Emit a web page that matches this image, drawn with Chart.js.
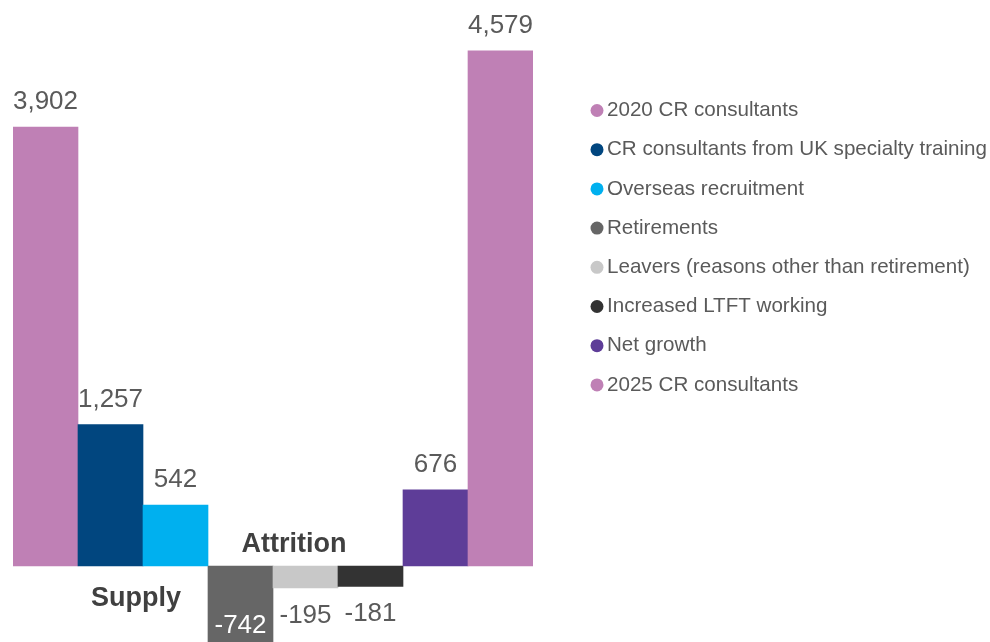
<!DOCTYPE html>
<html>
<head>
<meta charset="utf-8">
<script src="https://cdn.jsdelivr.net/npm/chart.js@4"></script>
<style>
  body { margin: 0; background: #fff; }
  #wrap { width: 990px; height: 642px; }
</style>
</head>
<body>
<div id="wrap"><canvas id="waterfallChart" width="990" height="642"></canvas></div>
<script>
// ------ data ------ //
var categories = [
	'2020 CR consultants',
	'CR consultants from UK specialty training',
	'Overseas recruitment',
	'Retirements',
	'Leavers (reasons other than retirement)',
	'Increased LTFT working',
	'Net growth',
	'2025 CR consultants'
]
var values = [3902, 1257, 542, -742, -195, -181, 676, 4579]
var colours = ['#BF80B5', '#01467F', '#00B0EF', '#666666', '#C8C8C8', '#333333', '#5E3D98', '#BF80B5']
var groupLabels = ['Supply', 'Attrition']

var fontFamily = '"Liberation Sans", Arial, sans-serif'
var textColour = '#5A5A5A'

// value labels above / below each bar
var valueLabels = {
	id: 'valueLabels',
	afterDatasetsDraw: function (chart) {
		var ctx = chart.ctx
		var meta = chart.getDatasetMeta(0)
		var bottom = chart.chartArea.bottom
		ctx.save()
		ctx.font = '26px ' + fontFamily
		ctx.textAlign = 'center'
		ctx.textBaseline = 'middle'
		meta.data.forEach(function (bar, i) {
			var v = values[i]
			var txt = v.toLocaleString('en-US')
			var y
			ctx.fillStyle = textColour
			if (v >= 0) {
				y = bar.y - 25
			} else {
				y = bar.y + 28
				if (y > bottom - 12) {
					// not enough room under the bar: put it inside
					y = bottom - 16
					ctx.fillStyle = '#ffffff'
				}
			}
			ctx.fillText(txt, bar.x, y)
		})
		ctx.restore()
	}
}

// group titles + legend on the right
var extras = {
	id: 'extras',
	afterDraw: function (chart) {
		var ctx = chart.ctx
		ctx.save()
		ctx.font = 'bold 27px ' + fontFamily
		ctx.fillStyle = '#404040'
		ctx.textAlign = 'center'
		ctx.textBaseline = 'middle'
		ctx.fillText(groupLabels[0], 136, 599)
		ctx.fillText(groupLabels[1], 294, 545)

		ctx.font = '20.6px ' + fontFamily
		ctx.textAlign = 'left'
		categories.forEach(function (c, i) {
			var y = 110.5 + i * 39.2
			ctx.beginPath()
			ctx.arc(597, y, 6.5, 0, Math.PI * 2)
			ctx.fillStyle = colours[i]
			ctx.fill()
			ctx.fillStyle = textColour
			ctx.fillText(c, 607, y)
		})
		ctx.restore()
	}
}

var ctx = document.getElementById('waterfallChart')
var data = {
	labels: categories,
	datasets: [{
		label: 'CR consultants',
		data: values,
		backgroundColor: colours,
		borderWidth: 0,
		categoryPercentage: 1,
		barPercentage: 1
	}]
}

var myChart = new Chart(ctx, {
	type: 'bar',
	data: data,
	options: {
		responsive: false,
		animation: false,
		layout: {
			padding: { left: 13, right: 457, top: 0, bottom: 0 }
		},
		scales: {
			x: { display: false },
			y: { display: false, min: -676, max: 5032 }
		},
		plugins: {
			legend: { display: false },
			tooltip: { enabled: false }
		}
	},
	plugins: [valueLabels, extras]
})
</script>
</body>
</html>
